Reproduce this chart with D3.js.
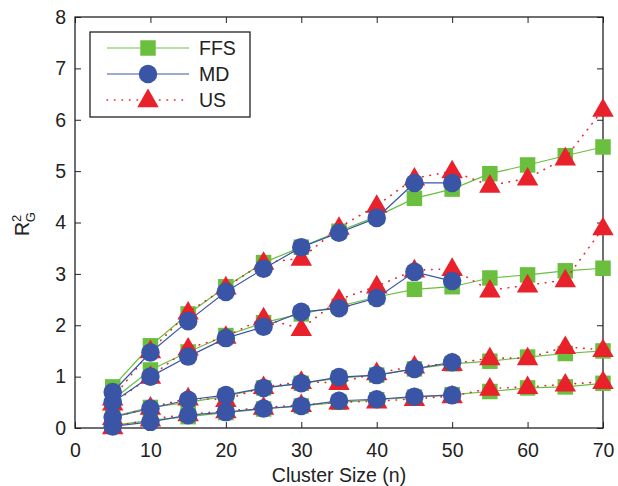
<!DOCTYPE html>
<html><head><meta charset="utf-8">
<script src="https://cdn.jsdelivr.net/npm/d3@7"></script>
<style>body{margin:0;background:#fff}svg{display:block}text{font-family:"Liberation Sans",Arial,sans-serif;fill:#222}</style>
</head><body><svg id="c" width="618" height="486"></svg>
<script>
const xTicks=[0,10,20,30,40,50,60,70];
const yTicks=[0,1,2,3,4,5,6,7,8];
const xs=[5,10,15,20,25,30,35,40,45,50,55,60,65,70];
const seriesNames=["FFS","MD","US"];
const ffs=[
 [0.8,1.6,2.22,2.75,3.22,3.52,3.83,4.12,4.47,4.65,4.95,5.12,5.3,5.47],
 [0.55,1.13,1.48,1.8,2.05,2.22,2.37,2.55,2.7,2.75,2.92,2.98,3.06,3.11],
 [0.22,0.4,0.5,0.62,0.78,0.87,0.97,1.03,1.15,1.25,1.3,1.38,1.45,1.5],
 [0.05,0.15,0.22,0.3,0.37,0.43,0.5,0.55,0.6,0.65,0.71,0.78,0.8,0.87]];
const md=[
 [0.7,1.47,2.08,2.65,3.1,3.52,3.8,4.09,4.77,4.77],
 [0.5,1.0,1.39,1.75,1.97,2.26,2.33,2.53,3.04,2.86],
 [0.21,0.38,0.55,0.64,0.78,0.87,0.99,1.03,1.15,1.28],
 [0.03,0.12,0.25,0.31,0.38,0.43,0.53,0.56,0.61,0.64]];
const us=[
 [0.58,1.5,2.25,2.74,3.22,3.3,3.9,4.33,4.86,5.0,4.72,4.86,5.25,6.2],
 [0.48,1.0,1.55,1.78,2.14,1.93,2.5,2.76,3.07,3.1,2.68,2.78,2.88,3.89],
 [0.2,0.4,0.58,0.55,0.8,0.9,0.88,1.07,1.2,1.25,1.36,1.36,1.58,1.52],
 [0.02,0.17,0.27,0.33,0.4,0.45,0.5,0.52,0.57,0.62,0.77,0.8,0.85,0.9]];

const W=618,H=486,m={l:75,r:15,t:17,b:58};
const svg=d3.select("#c");
const x=d3.scaleLinear().domain([0,70]).range([m.l,W-m.r]);
const y=d3.scaleLinear().domain([0,8]).range([H-m.b,m.t]);
const green="#6abf3f",blue="#3a55a6",red="#e8212b";
const fs=19.5;

// axes with inward ticks
const ax=svg.append("g");
ax.append("g").attr("transform",`translate(0,${H-m.b})`).call(d3.axisBottom(x).tickValues(xTicks).tickSize(-6).tickPadding(15));
ax.append("g").attr("transform",`translate(0,${m.t})`).call(d3.axisTop(x).tickValues(xTicks).tickSize(-6).tickFormat(""));
ax.append("g").attr("transform",`translate(${m.l},0)`).call(d3.axisLeft(y).tickValues(yTicks).tickSize(-6).tickPadding(9));
ax.append("g").attr("transform",`translate(${W-m.r},0)`).call(d3.axisRight(y).tickValues(yTicks).tickSize(-6).tickFormat(""));
ax.selectAll(".domain").remove();
ax.selectAll("line").attr("stroke","#222").attr("stroke-width",1);
ax.selectAll("text").attr("font-size",fs).attr("fill","#222");
svg.append("rect").attr("x",m.l).attr("y",m.t).attr("width",W-m.l-m.r).attr("height",H-m.t-m.b)
 .attr("fill","none").attr("stroke","#222").attr("stroke-width",1.3);

const line=d3.line().x(d=>x(d[0])).y(d=>y(d[1]));
const sym={
 FFS:d3.symbol().type(d3.symbolSquare).size(240),
 MD:d3.symbol().type(d3.symbolCircle).size(270),
 US:d3.symbol().type(d3.symbolTriangle).size(200)
};
function drawSeries(name,groups,color,dash){
 const g=svg.append("g");
 groups.forEach(vals=>{
  const pts=vals.map((v,i)=>[xs[i],v]);
  g.append("path").attr("d",line(pts)).attr("fill","none").attr("stroke",color)
   .attr("stroke-width",dash?1.6:1.2).attr("stroke-dasharray",dash||null).attr("stroke-linecap",dash?"round":null);
  g.selectAll(null).data(pts).join("path").attr("d",sym[name]())
   .attr("transform",d=>`translate(${x(d[0])},${y(d[1])+(name==="US"?1:0)})`).attr("fill",color);
 });
}
drawSeries("FFS",ffs,green,null);
drawSeries("US",us,red,"0.5,7");
drawSeries("MD",md,blue,null);

// legend
const lg=svg.append("g");
lg.append("rect").attr("x",90).attr("y",32).attr("width",160).attr("height",85).attr("fill","#fff").attr("stroke","#222").attr("stroke-width",1.3);
const colors={FFS:green,MD:blue,US:red};
seriesNames.forEach((n,i)=>{
 const yy=48+i*26;
 lg.append("line").attr("x1",107).attr("x2",189).attr("y1",yy).attr("y2",yy).attr("stroke",colors[n])
  .attr("stroke-width",n==="US"?1.6:1.2).attr("stroke-dasharray",n==="US"?"0.5,7":null).attr("stroke-linecap",n==="US"?"round":null);
 lg.append("path").attr("d",sym[n]()).attr("transform",`translate(148,${yy+(n==="US"?1:0)})`).attr("fill",colors[n]);
 lg.append("text").attr("x",199).attr("y",yy+7).attr("font-size",fs).text(n);
});

// axis labels
svg.append("text").attr("x",(m.l+W-m.r)/2).attr("y",482).attr("text-anchor","middle").attr("font-size",fs).text("Cluster Size (n)");
const yl=svg.append("text").attr("transform","translate(29,224) rotate(-90)").attr("text-anchor","middle").attr("font-size",fs);
yl.append("tspan").text("R");
yl.append("tspan").attr("font-size",13).attr("dy",-8).text("2");
yl.append("tspan").attr("font-size",13).attr("dx",-7.5).attr("dy",14).text("G");
</script></body></html>
